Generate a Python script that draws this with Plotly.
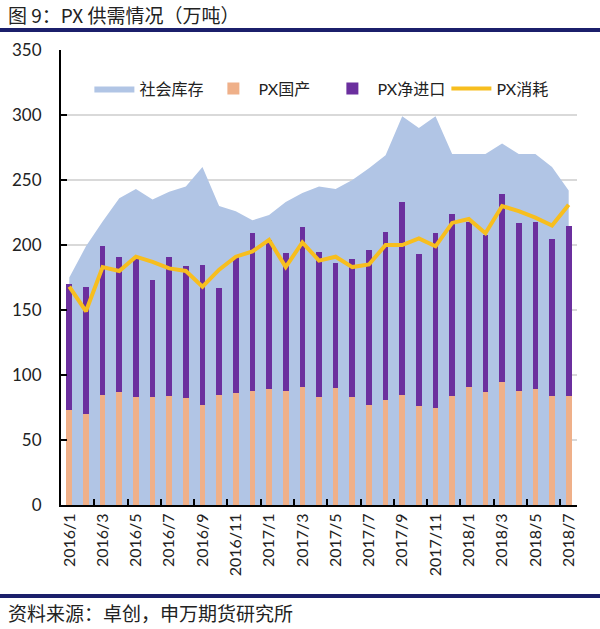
import plotly.graph_objects as go

months = ["2016/1","2016/2","2016/3","2016/4","2016/5","2016/6","2016/7","2016/8","2016/9","2016/10","2016/11","2016/12",
          "2017/1","2017/2","2017/3","2017/4","2017/5","2017/6","2017/7","2017/8","2017/9","2017/10","2017/11","2017/12",
          "2018/1","2018/2","2018/3","2018/4","2018/5","2018/6","2018/7"]

stock = [175, 199, 218, 236, 243, 235, 241, 245, 260, 230, 226, 219,
         223, 233, 240, 245, 243, 250, 259, 269, 299, 290, 299, 270,
         270, 270, 278, 270, 270, 260, 242]

domestic = [73, 70, 85, 87, 83, 83, 84, 82, 77, 85, 86, 88,
            89, 88, 91, 83, 90, 83, 77, 81, 85, 76, 75, 84,
            91, 87, 95, 88, 89, 84, 84]

total_supply = [170, 168, 199, 191, 191, 173, 191, 184, 185, 167, 191, 209,
                204, 194, 214, 195, 186, 189, 196, 210, 233, 193, 209, 224,
                218, 208, 239, 217, 218, 205, 215]

net_import = [t - d for t, d in zip(total_supply, domestic)]

consumption = [168, 149, 183, 180, 191, 187, 182, 180, 168, 181, 191, 195,
               204, 183, 202, 188, 191, 183, 185, 200, 200, 205, 199, 217,
               220, 209, 230, 226, 221, 215, 231]

ytick_vals = [0, 50, 100, 150, 200, 250, 300, 350]

idx = list(range(len(months)))
label_idx = idx[::2]
label_txt = [months[i] for i in label_idx]
boundary_ticks = [i - 0.5 for i in label_idx[1:]]

FONT = "Lato, 'Noto Sans CJK SC', sans-serif"
CJK = "'Noto Sans CJK SC', sans-serif"

fig = go.Figure()

fig.add_trace(go.Scatter(
    x=idx, y=stock, name="社会库存", mode="lines",
    line=dict(width=0, color="#B1C5E5"), fill="tozeroy", fillcolor="#B1C5E5",
    xaxis="x", yaxis="y"))

fig.add_trace(go.Bar(
    x=idx, y=domestic, name="PX国产", marker=dict(color="#EFB089", line=dict(width=0)),
    width=0.34, xaxis="x2", yaxis="y2"))

fig.add_trace(go.Bar(
    x=idx, y=net_import, name="PX净进口", marker=dict(color="#6B2F9E", line=dict(width=0)),
    width=0.34, xaxis="x2", yaxis="y2"))

fig.add_trace(go.Scatter(
    x=idx, y=consumption, name="PX消耗", mode="lines",
    line=dict(width=4, color="#F7BE1E"), xaxis="x2", yaxis="y2"))

fig.update_layout(
    width=600, height=629,
    margin=dict(l=61, r=23, t=50, b=124),
    paper_bgcolor="white", plot_bgcolor="white",
    barmode="stack",
    font=dict(family=FONT, size=15, color="#222222"),
    showlegend=True,
    legend=dict(orientation="h", x=0.055, y=0.915, xanchor="left", yanchor="middle",
                font=dict(family=FONT, size=16, color="#222222"),
                bgcolor="rgba(0,0,0,0)", traceorder="normal", itemwidth=40,
                entrywidth=64, entrywidthmode="pixels"),
    xaxis=dict(range=[-0.5, 30.5], tickmode="array", tickvals=label_idx, ticktext=label_txt,
               tickangle=-90, ticks="", showgrid=False, zeroline=False,
               showline=True, linecolor="black", linewidth=2,
               tickfont=dict(family=FONT, size=16, color="#222222")),
    yaxis=dict(range=[0, 350], tickmode="array", tickvals=ytick_vals,
               showgrid=True, gridcolor="#D9D9D9", gridwidth=1.5, zeroline=False,
               showline=True, linecolor="black", linewidth=2,
               ticks="inside", ticklen=6, tickcolor="black", tickwidth=2,
               ticklabelstandoff=14,
               tickfont=dict(family=FONT, size=17, color="#222222")),
    xaxis2=dict(range=[-0.5, 30.5], overlaying="x", anchor="y2", side="bottom",
                tickmode="array", tickvals=boundary_ticks, showticklabels=False,
                ticks="inside", ticklen=6, tickcolor="black", tickwidth=2,
                showgrid=False, zeroline=False, showline=False),
    yaxis2=dict(range=[0, 350], overlaying="y", anchor="x2", visible=False),
)

plot_h = 629 - 50 - 124
plot_w = 600 - 61 - 23
def py(pix):
    return (629 - 124 - pix) / plot_h
def px(pix):
    return (pix - 61) / plot_w

fig.add_annotation(text="图 9：PX 供需情况（万吨）", xref="paper", yref="paper",
                   x=px(6), y=py(14), xanchor="left", yanchor="middle",
                   showarrow=False, font=dict(family=CJK, size=19, color="#222222"))
fig.add_annotation(text="资料来源：卓创，申万期货研究所", xref="paper", yref="paper",
                   x=px(6), y=py(612), xanchor="left", yanchor="middle",
                   showarrow=False, font=dict(family=CJK, size=19, color="#222222"))

fig.add_shape(type="line", xref="paper", yref="paper", x0=px(0), x1=px(600), y0=py(30), y1=py(30),
              line=dict(color="#1B1F6B", width=4))
fig.add_shape(type="line", xref="paper", yref="paper", x0=px(0), x1=px(600), y0=py(596), y1=py(596),
              line=dict(color="#1B1F6B", width=4))

fig.write_html("out.html")
